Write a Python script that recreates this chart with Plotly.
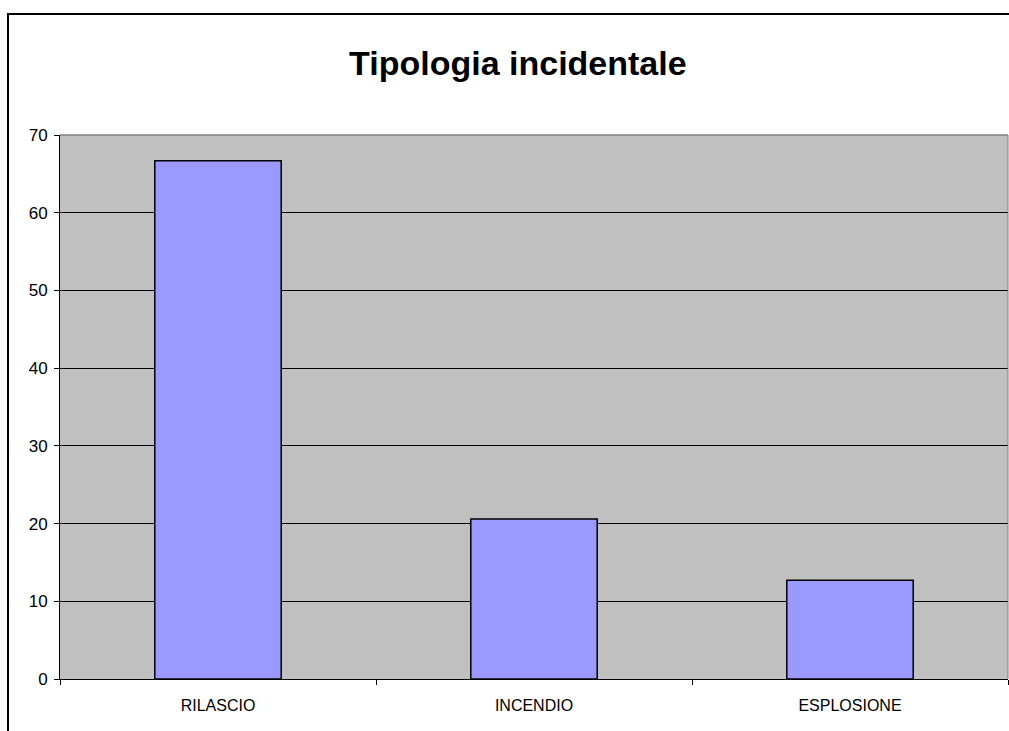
import plotly.graph_objects as go

categories = ["RILASCIO", "INCENDIO", "ESPLOSIONE"]
values = [66.7, 20.6, 12.7]
y_ticks = [0, 10, 20, 30, 40, 50, 60, 70]

fig = go.Figure()
fig.add_trace(go.Bar(
    x=categories, y=values,
    marker=dict(color="#9999FF", line=dict(color="#000000", width=1.5)),
    width=0.4,
))

fig.update_layout(
    width=1009, height=731,
    margin=dict(l=60, r=1, t=135, b=52),
    paper_bgcolor="white",
    plot_bgcolor="#C0C0C0",
    showlegend=False,
    font=dict(family="Liberation Sans, Arial, sans-serif", color="#000000"),
    title=dict(text="<b>Tipologia incidentale</b>", x=0.483, xref="paper", xanchor="center",
               y=1 - 63 / 731, yref="container", yanchor="middle",
               font=dict(size=34, family="Liberation Sans, Arial, sans-serif", color="#000000")),
    bargap=0.6,
)
fig.update_yaxes(
    range=[0, 70], tickvals=y_ticks, showgrid=True, gridcolor="#000000", gridwidth=1,
    showline=True, linecolor="#000000", linewidth=1, ticks="outside", ticklen=5,
    tickcolor="#000000", tickfont=dict(size=17), zeroline=False, ticklabelstandoff=3,
)
fig.update_xaxes(
    showline=True, linecolor="#000000", linewidth=1, ticks="outside", ticklen=5,
    tickcolor="#000000", tickson="boundaries", tickfont=dict(size=16), showgrid=False,
    ticklabelstandoff=12,
)
# plot-area frame (top/right), grey
fig.add_shape(type="line", xref="paper", yref="paper", x0=0, x1=1, y0=1, y1=1,
              line=dict(color="#808080", width=1.5))
fig.add_shape(type="line", xref="paper", yref="paper", x0=1, x1=1, y0=0, y1=1,
              line=dict(color="#808080", width=1))
# outer chart border
fig.add_shape(type="rect", xref="paper", yref="paper",
              x0=(8 - 60) / 948, x1=1.05, y0=-0.2, y1=(679 - 14) / 544,
              line=dict(color="#000000", width=2), fillcolor="rgba(0,0,0,0)", layer="below")

fig.write_html("out.html", config={"displayModeBar": False},
               post_script="document.body.style.margin='0';document.body.style.overflow='hidden';")
